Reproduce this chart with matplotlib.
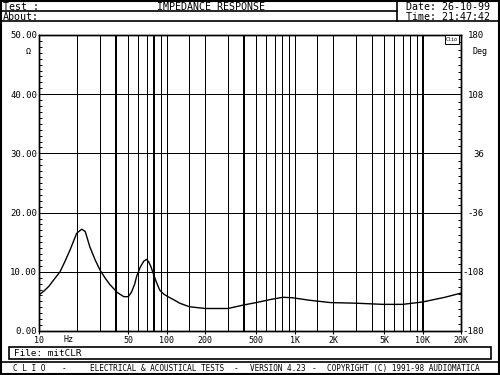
import matplotlib
matplotlib.use("Agg")
import matplotlib.pyplot as plt
from matplotlib.patches import Rectangle
from matplotlib.ticker import MultipleLocator, NullLocator

# impedance curve
freq_hz = [10, 11, 12, 13, 14.6, 16, 17.5, 19.7, 21.6, 23, 25, 27.5, 30, 33, 36,
           41, 46, 50, 53, 56, 58, 62, 66, 69.5, 72, 75, 78, 83, 88, 95, 102,
           115, 126, 150, 200, 300, 400, 500, 640, 810, 970, 1300, 1900, 3000,
           4900, 7000, 10000, 15000, 20000]
impedance_ohm = [6.1, 6.8, 7.6, 8.6, 10.0, 11.8, 13.7, 16.5, 17.2, 16.8, 14.2,
                 12.0, 10.3, 8.9, 7.8, 6.5, 5.8, 5.8, 6.6, 7.9, 9.2, 10.8, 11.8,
                 12.1, 11.7, 10.9, 9.8, 8.2, 6.9, 6.2, 5.8, 5.2, 4.7, 4.1, 3.8,
                 3.8, 4.4, 4.8, 5.3, 5.7, 5.6, 5.2, 4.8, 4.7, 4.5, 4.5, 4.9,
                 5.7, 6.4]

grid_freqs = [20, 30, 40, 50, 60, 70, 80, 90, 100, 150, 200, 300, 400, 500, 600,
              700, 800, 900, 1000, 1500, 2000, 3000, 4000, 5000, 6000, 7000,
              8000, 9000, 10000]
xtick_freqs = [10, 50, 100, 200, 500, 1000, 2000, 5000, 10000, 20000]
xtick_labels = ["10", "50", "100", "200", "500", "1K", "2K", "5K", "10K", "20K"]
ohm_ticks = [0, 10, 20, 30, 40, 50]
ohm_labels = ["0.00", "10.00", "20.00", "30.00", "40.00", "50.00"]
deg_ticks = [-180, -108, -36, 36, 108, 180]
deg_labels = ["-180", "-108", "-36", "36", "108", "180"]

MONO = "DejaVu Sans Mono"
W, H = 500, 375
thick_lines = [40, 80, 400, 10000]

fig = plt.figure(figsize=(W / 100, H / 100), dpi=100)
fig.patch.set_facecolor("white")

# page frame in pixel coordinates
frame = fig.add_axes([0, 0, 1, 1])
frame.set_xlim(0, W)
frame.set_ylim(H, 0)
frame.axis("off")

frame.add_patch(Rectangle((1, 1), W - 2, H - 2, fill=False, lw=1.5, color="k"))
frame.plot([1, 397], [11, 11], color="k", lw=1.2)
frame.plot([1, W - 1], [21, 21], color="k", lw=1.2)
frame.plot([397, 397], [1, 21], color="k", lw=1.2)
frame.text(3, 6.5, "Test :", family=MONO, fontsize=7.2, va="center")
frame.text(3, 16.5, "About:", family=MONO, fontsize=7.2, va="center")
frame.text(157, 6.5, "IMPEDANCE RESPONSE", family=MONO, fontsize=7.2, va="center")
frame.text(406, 6.5, "Date: 26-10-99", family=MONO, fontsize=7.2, va="center")
frame.text(406, 16.5, "Time: 21:47:42", family=MONO, fontsize=7.2, va="center")

frame.add_patch(Rectangle((9, 347), 482, 12, fill=False, lw=1.2, color="k"))
frame.text(14, 353.5, "File: mitCLR", family=MONO, fontsize=6.7, va="center")
frame.plot([1, W - 1], [362, 362], color="k", lw=1.2)
footer = [(13, "C L I O"), (62, "-"), (90, "ELECTRICAL & ACOUSTICAL TESTS"),
          (234, "-"), (250, "VERSION 4.23"), (312, "-"),
          (327, "COPYRIGHT (C) 1991-98 AUDIOMATICA")]
for fx, txt in footer:
    frame.text(fx, 368.5, txt, family=MONO, fontsize=5.6, va="center")

frame.text(28, 52, "\u03a9", family=MONO, fontsize=6, ha="center", va="center")
frame.text(480, 52, "Deg", family=MONO, fontsize=6, ha="center", va="center")
frame.text(63, 340, "Hz", family=MONO, fontsize=6, ha="left", va="center")

# plot area
ax = fig.add_axes([39 / W, 1 - 331 / H, 422 / W, 296 / H])
ax.set_xscale("log")
ax.set_xlim(10, 20000)
ax.set_ylim(0, 50)

for f in grid_freqs:
    ax.axvline(f, color="k", lw=1.44 if f in thick_lines else 0.72,
               antialiased=False, zorder=1)
for v in ohm_ticks[1:-1]:
    ax.axhline(v, color="k", lw=0.72, antialiased=False, zorder=1)

ax.plot(freq_hz, impedance_ohm, color="k", lw=1.0, zorder=3)

ax.set_xticks(xtick_freqs)
ax.set_xticklabels(xtick_labels, family=MONO, fontsize=6)
ax.xaxis.set_minor_locator(NullLocator())
ax.tick_params(axis="x", direction="out", length=2, width=0.8, pad=1.5)

ax.set_yticks(ohm_ticks)
ax.set_yticklabels(ohm_labels, family=MONO, fontsize=6.5)
ax.yaxis.set_minor_locator(MultipleLocator(1))
ax.tick_params(axis="y", which="major", length=0, pad=1.5)
ax.tick_params(axis="y", which="minor", direction="in", length=2, width=0.7)

ax2 = ax.twinx()
ax2.set_ylim(-180, 180)
ax2.set_yticks(deg_ticks)
ax2.set_yticklabels(deg_labels, family=MONO, fontsize=6.5)
for lbl in ax2.get_yticklabels():
    lbl.set_horizontalalignment("right")
ax2.yaxis.set_minor_locator(MultipleLocator(9))
ax2.tick_params(axis="y", which="major", length=0, pad=16.5)
ax2.tick_params(axis="y", which="minor", direction="in", length=2, width=0.7)

for a in (ax, ax2):
    for sp in a.spines.values():
        sp.set_linewidth(1.0)

# small logo box in the top right corner
frame.add_patch(Rectangle((445, 35), 14, 9, fill=True, facecolor="white",
                          edgecolor="k", lw=0.7, zorder=5))
frame.set_zorder(5)
frame.patch.set_visible(False)
frame.text(452, 39.5, "Clio", family=MONO, fontsize=3.6, ha="center",
           va="center", zorder=6)

fig.savefig("out.png", dpi=100)
